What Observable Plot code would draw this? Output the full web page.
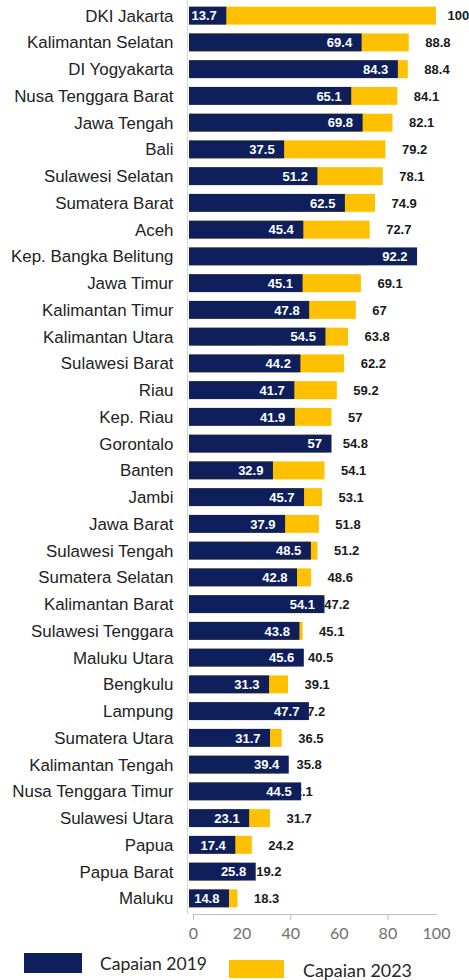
<!DOCTYPE html>
<html>
<head>
<meta charset="utf-8">
<script src="https://cdn.jsdelivr.net/npm/d3@7"></script>
<script src="https://cdn.jsdelivr.net/npm/@observablehq/plot@0.6"></script>
<style>
  html, body { margin: 0; padding: 0; background: #fff; }
  #chart { width: 469px; }
  svg { display: block; overflow: visible; }
</style>
</head>
<body>
<div id="chart"></div>
<script>
const provinces = ["DKI Jakarta","Kalimantan Selatan","DI Yogyakarta","Nusa Tenggara Barat","Jawa Tengah","Bali","Sulawesi Selatan","Sumatera Barat","Aceh","Kep. Bangka Belitung","Jawa Timur","Kalimantan Timur","Kalimantan Utara","Sulawesi Barat","Riau","Kep. Riau","Gorontalo","Banten","Jambi","Jawa Barat","Sulawesi Tengah","Sumatera Selatan","Kalimantan Barat","Sulawesi Tenggara","Maluku Utara","Bengkulu","Lampung","Sumatera Utara","Kalimantan Tengah","Nusa Tenggara Timur","Sulawesi Utara","Papua","Papua Barat","Maluku"];
const capaian2019 = [13.7,69.4,84.3,65.1,69.8,37.5,51.2,62.5,45.4,92.2,45.1,47.8,54.5,44.2,41.7,41.9,57,32.9,45.7,37.9,48.5,42.8,54.1,43.8,45.6,31.3,47.7,31.7,39.4,44.5,23.1,17.4,25.8,14.8];
const capaian2023 = [100,88.8,88.4,84.1,82.1,79.2,78.1,74.9,72.7,71.4,69.1,67,63.8,62.2,59.2,57,54.8,54.1,53.1,51.8,51.2,48.6,47.2,45.1,40.5,39.1,37.2,36.5,35.8,32.1,31.7,24.2,19.2,18.3];
// 2023 labels that the reference does not show (fully hidden behind the 2019 bar)
const hidden2023Labels = ["Kep. Bangka Belitung"];
const xTicks = [0,20,40,60,80,100];
const xTickMarks = [0,40,80];
const seriesNames = ["Capaian 2019","Capaian 2023"];
const colors = ["#0e1f5b","#FFC000"];

const data = provinces.map((p, i) => ({prov: p, v19: capaian2019[i], v23: capaian2023[i]}));
const labels23 = data.filter(d => !hidden2023Labels.includes(d.prov));
// labels at the very end of the axis are pulled in closer, as the source does
const edgeLimit = 95;
const labels23Main = labels23.filter(d => d.v23 < edgeLimit);
const labels23Edge = labels23.filter(d => d.v23 >= edgeLimit);

const FONT = "Liberation Sans, Arial, Helvetica, sans-serif";
const lab23 = {y: "prov", x: "v23", text: d => String(d.v23), textAnchor: "start", fontWeight: "bold", fill: "#1a1a1a", fontSize: 13, fontFamily: FONT};

const plot = Plot.plot({
  width: 469,
  height: 948,
  marginLeft: 193,
  marginRight: 33,
  marginTop: 0,
  marginBottom: 34,
  style: {fontFamily: FONT, fontSize: "13px", background: "#fff", overflow: "visible"},
  x: {domain: [0, 100], label: null},
  y: {domain: provinces, paddingInner: 0.33, paddingOuter: 0.25, round: false, label: null},
  marks: [
    Plot.ruleX([0], {dx: -6, stroke: "#d9d9d9"}),
    Plot.barX(data, {y: "prov", x: "v23", fill: colors[1], insetLeft: -4}),
    Plot.text(labels23Main, {...lab23, dx: 16}),
    Plot.text(labels23Edge, {...lab23, dx: 11}),
    Plot.barX(data, {y: "prov", x: "v19", fill: colors[0], insetLeft: -4}),
    Plot.text(data, {y: "prov", x: "v19", text: d => String(d.v19), textAnchor: "end", dx: -10, fontWeight: "bold", fill: "#ffffff", fontSize: 13, fontFamily: FONT}),
    Plot.axisY({tickSize: 0, tickPadding: 20, fontSize: 16.9, fill: "#222", fontFamily: FONT, label: null}),
    Plot.frame({anchor: "bottom", stroke: "#bfbfbf"}),
    Plot.axisX({ticks: xTickMarks, tickSize: 6, tickFormat: () => "", stroke: "#bfbfbf", label: null}),
    Plot.axisX({ticks: xTicks, tickSize: 0, tickPadding: 13, fontSize: 16, fill: "#6f6f6f", fontFamily: "Lato, sans-serif", label: null})
  ]
});
document.getElementById("chart").appendChild(plot);

// Legend below the plot
const ns = "http://www.w3.org/2000/svg";
const leg = document.createElementNS(ns, "svg");
leg.setAttribute("width", 469);
leg.setAttribute("height", 32);
const items = [
  {x: 24, y: 5, w: 58, h: 20, tx: 100, ty: 22, tw: 107},
  {x: 229, y: 12, w: 55, h: 18, tx: 303, ty: 29, tw: 109}
];
items.forEach((it, i) => {
  const r = document.createElementNS(ns, "rect");
  r.setAttribute("x", it.x); r.setAttribute("y", it.y);
  r.setAttribute("width", it.w); r.setAttribute("height", it.h);
  r.setAttribute("fill", colors[i]);
  leg.appendChild(r);
  const t = document.createElementNS(ns, "text");
  t.setAttribute("x", it.tx); t.setAttribute("y", it.ty);
  t.setAttribute("font-family", "Lato, sans-serif");
  t.setAttribute("font-size", "18");
  t.setAttribute("fill", "#262626");
  t.setAttribute("textLength", it.tw);
  t.setAttribute("lengthAdjust", "spacingAndGlyphs");
  t.textContent = seriesNames[i];
  leg.appendChild(t);
});
document.getElementById("chart").appendChild(leg);
</script>
</body>
</html>
